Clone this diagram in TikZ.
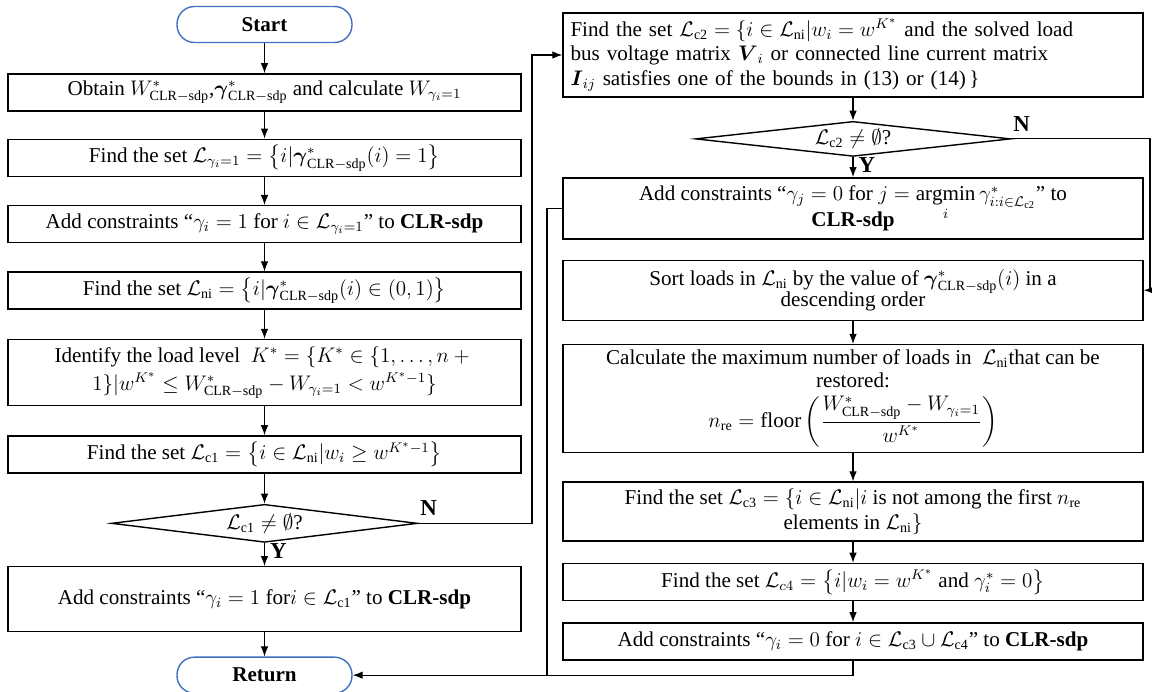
\documentclass[tikz,border=0pt]{standalone}
\usepackage{amsmath,amssymb}
\usepackage{fontspec}
\setmainfont{Liberation Serif}
\usetikzlibrary{arrows.meta,positioning,shapes.geometric,calc}

\definecolor{termblue}{RGB}{65,113,190}
\newcommand{\sdp}{\mathrm{CLR{-}sdp}}
\newcommand{\Lset}[1]{\mathcal{L}_{\mathrm{#1}}}
\newcommand{\gstar}{\boldsymbol{\gamma}^{*}_{\sdp}}

\begin{document}
\begin{tikzpicture}[
  font=\fontsize{12}{14}\selectfont,
  >=Latex,
  box/.style={
    draw,
    align=center,
    inner sep=2pt,
    minimum height=0.74cm,
    line width=0.8pt
  },
  lbox/.style={box, minimum width=10.26cm},
  rbox/.style={box, minimum width=11.6cm},
  term/.style={draw=termblue, line width=0.8pt, rounded corners=0.35cm,
    minimum width=3.5cm, minimum height=0.72cm, font=\fontsize{12}{13}\selectfont\bfseries},
  dec/.style={diamond, draw, aspect=8, inner sep=0pt, line width=0.8pt},
  arrow/.style={->, line width=0.6pt},
  yn/.style={font=\fontsize{13}{14}\selectfont\bfseries, inner sep=1pt}
]
  \useasboundingbox (0,0) rectangle (23.04,-13.84);

  % left column
  \node[term] (start) at (5.29,-0.49) {Start};
  \node[lbox, below=0.6cm of start] (obtain) {Obtain $W^{*}_{\sdp}$,$\gstar$ and calculate $W_{\gamma_i=1}$};
  \node[lbox, below=0.54cm of obtain] (findg) {Find the set $\mathcal{L}_{\gamma_i=1}=\bigl\{i|\gstar(i)=1\bigr\}$};
  \node[lbox, below=0.56cm of findg] (addone) {Add constraints ``$\gamma_i=1$ for $i\in\mathcal{L}_{\gamma_i=1}$'' to \textbf{CLR-sdp}};
  \node[lbox, below=0.56cm of addone] (findni) {Find the set $\Lset{ni}=\bigl\{i|\gstar(i)\in(0,1)\bigr\}$};
  \node[lbox, below=0.58cm of findni, minimum height=1.32cm] (ident) {Identify the load level\ \ $K^{*}=\{K^{*}\in\{1,\dots,n+{}$\\[2pt]$1\}|w^{K^{*}}\le W^{*}_{\sdp}-W_{\gamma_i=1}<w^{K^{*}-1}\}$};
  \node[lbox, below=0.58cm of ident] (findc1) {Find the set $\Lset{c1}=\bigl\{i\in\Lset{ni}|w_i\ge w^{K^{*}-1}\bigr\}$};
  \node[dec, below=0.6cm of findc1, minimum width=6.12cm, minimum height=0.76cm] (dec1) {$\Lset{c1}\neq\emptyset$?};
  \node[lbox, below=0.46cm of dec1, minimum height=1.3cm] (addc1) {Add constraints ``$\gamma_i=1$ for$i\in\Lset{c1}$'' to \textbf{CLR-sdp}};
  \node[term, below=0.48cm of addc1] (ret) {Return};

  % right column
  \node[rbox, minimum height=1.68cm, text width=11.3cm, align=left] (findc2) at (17.06,-1.1)
    {Find the set $\Lset{c2}=\{i\in\Lset{ni}|w_i=w^{K^{*}}$ and the solved load\\
     bus voltage matrix $\boldsymbol{V}_i$ or connected line current matrix\\
     $\boldsymbol{I}_{ij}$ satisfies one of the bounds in (13) or (14)\,\}};
  \node[dec, below=0.46cm of findc2, minimum width=6.3cm, minimum height=0.7cm] (dec2) {$\Lset{c2}\neq\emptyset$?};
  \node[rbox, below=0.4cm of dec2, minimum height=1.22cm] (addgj) {Add constraints ``$\gamma_j=0$ for $j=\operatorname*{argmin}\limits_{i}\gamma^{*}_{i:i\in\Lset{c2}}$'' to\\[-6pt]\textbf{CLR-sdp}};
  \node[rbox, below=0.4cm of addgj, minimum height=1.2cm] (sort) {Sort loads in $\Lset{ni}$ by the value of $\gstar(i)$ in a\\[-2pt]descending order};
  \node[rbox, below=0.46cm of sort, minimum height=2.16cm] (calc) {Calculate the maximum number of loads in\ \ $\Lset{ni}$that can be\\[-1pt]restored:\\[4pt]$n_{\mathrm{re}}=\mathrm{floor}\left(\dfrac{W^{*}_{\sdp}-W_{\gamma_i=1}}{w^{K^{*}}}\right)$};
  \node[rbox, below=0.56cm of calc, minimum height=1.18cm] (findc3) {Find the set $\Lset{c3}=\{i\in\Lset{ni}|i$ is not among the first $n_{\mathrm{re}}$\\elements in $\Lset{ni}\}$};
  \node[rbox, below=0.42cm of findc3] (findc4) {Find the set $\mathcal{L}_{c4}=\bigl\{i|w_i=w^{K^{*}}$ and $\gamma^{*}_i=0\bigr\}$};
  \node[rbox, below=0.42cm of findc4] (addzero) {Add constraints ``$\gamma_i=0$ for $i\in\Lset{c3}\cup\Lset{c4}$'' to \textbf{CLR-sdp}};

  % bus lines
  \coordinate (nbus) at (10.64,0);
  \coordinate (rbus) at (10.94,0);
  \coordinate (nbus2) at (23.0,0);

  % straight flow
  \foreach \a/\b in {start/obtain, obtain/findg, findg/addone, addone/findni, findni/ident,
    ident/findc1, findc1/dec1, dec1/addc1, addc1/ret,
    findc2/dec2, dec2/addgj, sort/calc, calc/findc3, findc3/findc4, findc4/addzero}
    \draw[arrow] (\a) -- (\b);

  % branches
  \draw[arrow] (dec1.east) -| (nbus |- findc2.west) -- (findc2.west);
  \draw[arrow] (dec2.east) -| (nbus2 |- sort.east) -- (sort.east);
  \draw[arrow] (addgj.west) -| (rbus |- ret.east) -- (ret.east);
  \draw[line width=0.6pt] (addzero.south) |- (rbus |- ret.east);

  \node[yn, above right=3pt and 0pt of dec1.east] {N};
  \node[yn, below right=-1pt and 2pt of dec1.south] {Y};
  \node[yn, above right=3pt and 0pt of dec2.east] {N};
  \node[yn, below right=-1pt and 2pt of dec2.south] {Y};
\end{tikzpicture}
\end{document}
